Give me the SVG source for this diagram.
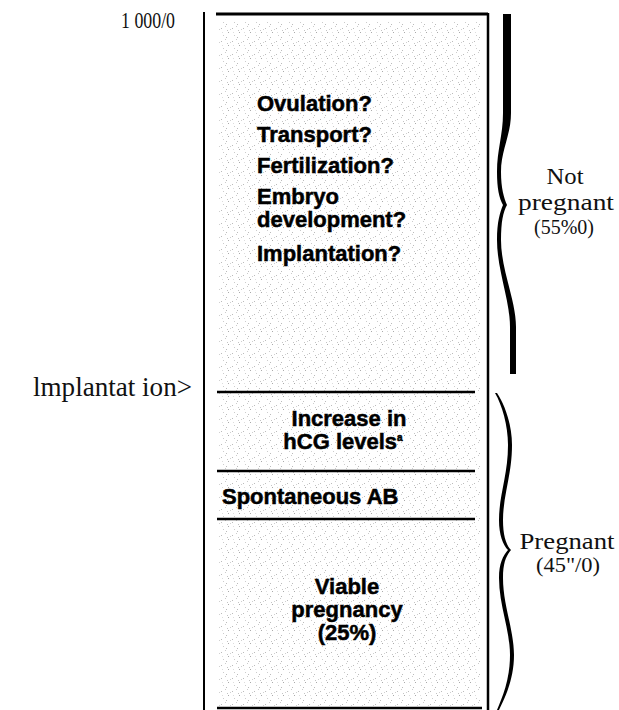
<svg xmlns="http://www.w3.org/2000/svg" width="619" height="710" viewBox="0 0 619 710">
<style>
.ser{font-family:"Liberation Serif","Times New Roman",serif;fill:#111}
.bold{font-family:"Liberation Sans",Arial,sans-serif;font-weight:bold;font-size:22px;fill:#000;stroke:#000;stroke-width:0.5}
.rule{stroke:#000;fill:none}
.brace{fill:#000;stroke:none}
</style>
<defs>
<pattern id="stip" width="11" height="13" patternUnits="userSpaceOnUse">
<rect x="1" y="2" width="1" height="1" fill="#bbb"/>
<rect x="5" y="0" width="1" height="1" fill="#ccc"/>
<rect x="8" y="6" width="1" height="1" fill="#aaa"/>
<rect x="3" y="9" width="1" height="1" fill="#ccc"/>
<rect x="6" y="11" width="1" height="1" fill="#bbb"/>
<rect x="10" y="3" width="1" height="1" fill="#d0d0d0"/>
<rect x="2" y="6" width="1" height="1" fill="#ddd"/>
<rect x="7" y="4" width="1" height="1" fill="#c4c4c4"/>
</pattern>
</defs>
<rect x="218" y="20" width="262" height="686" fill="url(#stip)"/>
<g id="scale-label"><text class="ser" x="121" y="28" font-size="24" textLength="54" lengthAdjust="spacingAndGlyphs">1 000/0</text></g>
<g id="connectors">
<line class="rule" x1="204" y1="12" x2="204" y2="710" stroke-width="2"/>
<line class="rule" x1="216" y1="14" x2="488" y2="14" stroke-width="3"/>
<line class="rule" x1="488" y1="13" x2="488" y2="710" stroke-width="2.5"/>
<line class="rule" x1="217" y1="392" x2="475" y2="392" stroke-width="2.5"/>
<line class="rule" x1="217" y1="471" x2="475" y2="471" stroke-width="2.5"/>
<line class="rule" x1="217" y1="519" x2="475" y2="519" stroke-width="2.5"/>
<line class="rule" x1="217" y1="708" x2="482" y2="708" stroke-width="2.5"/>
</g>
<g id="node-unknowns">
<text class="bold" x="257" y="111">Ovulation?</text>
<text class="bold" x="257" y="142">Transport?</text>
<text class="bold" x="257" y="173">Fertilization?</text>
<text class="bold" x="257" y="204">Embryo</text>
<text class="bold" x="257" y="227">development?</text>
<text class="bold" x="257" y="261">Implantation?</text>
</g>
<g id="node-implantation"><text class="ser" x="33" y="396" font-size="28" textLength="159" lengthAdjust="spacingAndGlyphs">lmplantat  ion&gt;</text></g>
<g id="node-hcg">
<text class="bold" x="349" y="426" text-anchor="middle">Increase in</text>
<text class="bold" x="343" y="449" text-anchor="middle">hCG levels<tspan font-size="10" dy="-8">a</tspan></text>
</g>
<g id="node-ab"><text class="bold" x="222" y="504">Spontaneous AB</text></g>
<g id="node-viable">
<text class="bold" x="347" y="594" text-anchor="middle">Viable</text>
<text class="bold" x="347" y="617" text-anchor="middle">pregnancy</text>
<text class="bold" x="347" y="640" text-anchor="middle">(25%)</text>
</g>
<g id="braces">
<path class="brace" d="M503,14 L511,14 L511,113 C511,135 501,150 501,172 C501,188 504,198 507,205 C503,212 501,222 501,240 C501,270 516,300 516,327 L516,374 L510,374 L510,327 C510,300 497,270 497,240 C497,222 500,212 503,205 C499,198 497,188 497,172 C497,150 503,135 503,113 Z"/>
<path class="brace" d="M497,393 C505,405 512,425 512,445 C512,475 503,495 503,520 C503,535 506,545 511,550 C506,556 503,563 503,578 C503,605 514,630 514,655 C514,680 504,700 499,710 L497,710 C502,698 510,680 510,655 C510,630 499,605 499,578 C499,563 503,556 508,550 C503,545 499,535 499,520 C499,495 508,475 508,445 C508,425 502,405 495,393 Z"/>
</g>
<g id="node-not-pregnant">
<text class="ser" x="565" y="184" font-size="24" text-anchor="middle" textLength="37" lengthAdjust="spacingAndGlyphs">Not</text>
<text class="ser" x="566" y="210" font-size="24" text-anchor="middle" textLength="96" lengthAdjust="spacingAndGlyphs">pregnant</text>
<text class="ser" x="564" y="234" font-size="20" text-anchor="middle" textLength="60" lengthAdjust="spacingAndGlyphs">(55%0)</text>
</g>
<g id="node-pregnant">
<text class="ser" x="567" y="549" font-size="24" text-anchor="middle" textLength="95" lengthAdjust="spacingAndGlyphs">Pregnant</text>
<text class="ser" x="568" y="572" font-size="20" text-anchor="middle" textLength="64" lengthAdjust="spacingAndGlyphs">(45"/0)</text>
</g>
</svg>
